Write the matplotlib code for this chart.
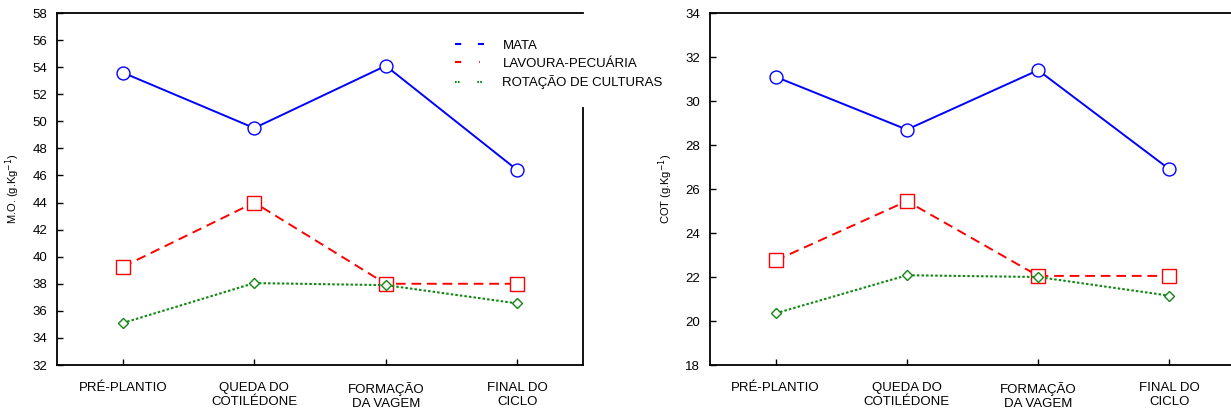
import matplotlib
matplotlib.use('Agg')
import matplotlib.pyplot as plt
from matplotlib.lines import Line2D

plt.rcParams['font.family'] = ['Liberation Sans', 'DejaVu Sans']

stages = ['PRÉ-PLANTIO', 'QUEDA DO\nCOTILÉDONE', 'FORMAÇÃO\nDA VAGEM', 'FINAL DO\nCICLO']
series_names = ['MATA', 'LAVOURA-PECUÁRIA', 'ROTAÇÃO DE CULTURAS']

# M.O. (g/kg)
mo_mata = [53.6, 49.5, 54.1, 46.4]
mo_lp = [39.25, 44.0, 38.0, 38.0]
mo_rc = [35.1, 38.05, 37.9, 36.55]

# COT (g/kg)
cot_mata = [31.1, 28.7, 31.4, 26.9]
cot_lp = [22.75, 25.45, 22.05, 22.05]
cot_rc = [20.35, 22.08, 22.0, 21.15]

W, H = 1231, 419
fig = plt.figure(figsize=(W / 100, H / 100), dpi=100)

ax1 = fig.add_axes([57 / W, 1 - 365 / H, 526 / W, 352 / H])
ax2 = fig.add_axes([710 / W, 1 - 365 / H, 525 / W, 352 / H])

x = [1, 2, 3, 4]


def draw(ax, mata, lp, rc, ylim, yticks, ylabel):
    ax.plot(x, mata, color='#0000ff', lw=1.4, ls='-', marker='o', ms=9.3,
            mfc='white', mec='#0000ff', mew=1.0)
    ax.plot(x, lp, color='#ff0000', lw=1.4, dashes=(5, 3), marker='s', ms=9.6,
            mfc='white', mec='#ff0000', mew=1.0)
    ax.plot(x, rc, color='#118811', lw=1.5, dashes=(1.2, 1.0), marker='D', ms=5.5,
            mfc='white', mec='#118811', mew=1.0)
    ax.set_xlim(0.5, 4.5)
    ax.set_ylim(*ylim)
    ax.set_yticks(yticks)
    ax.set_xticks(x)
    ax.set_xticklabels(stages, fontsize=9.5, linespacing=1.3)
    ax.tick_params(axis='y', direction='in', length=4, width=1, labelsize=9.5, pad=7)
    ax.tick_params(axis='x', direction='in', length=4, width=1, pad=12)
    for s in ax.spines.values():
        s.set_linewidth(1.3)
    ax.set_ylabel(ylabel, fontsize=8)
    ax.yaxis.set_label_coords(-0.066, 0.5)


draw(ax1, mo_mata, mo_lp, mo_rc, (32, 58), range(32, 59, 2), 'M.O. (g.Kg$^{-1}$)')
draw(ax2, cot_mata, cot_lp, cot_rc, (18, 34), range(18, 35, 2), 'COT (g.Kg$^{-1}$)')

# right spine of the first panel is interrupted behind the legend
ax1.spines['right'].set_bounds(32, 51)

handles = [
    Line2D([], [], color='#0000ff', lw=1.5, dashes=(3, 8)),
    Line2D([], [], color='#ff0000', lw=1.5, dashes=(3, 8.5, 0.4, 8)),
    Line2D([], [], color='#118811', lw=1.5, dashes=(0.8, 0.6, 0.8, 8.5)),
]
fig.legend(handles, series_names, loc='upper left', frameon=False,
           bbox_to_anchor=(443 / W, 1 - 28 / H), fontsize=9.5,
           handlelength=2.2, handletextpad=1.4, labelspacing=0.42)

fig.savefig('out.png', dpi=100)
